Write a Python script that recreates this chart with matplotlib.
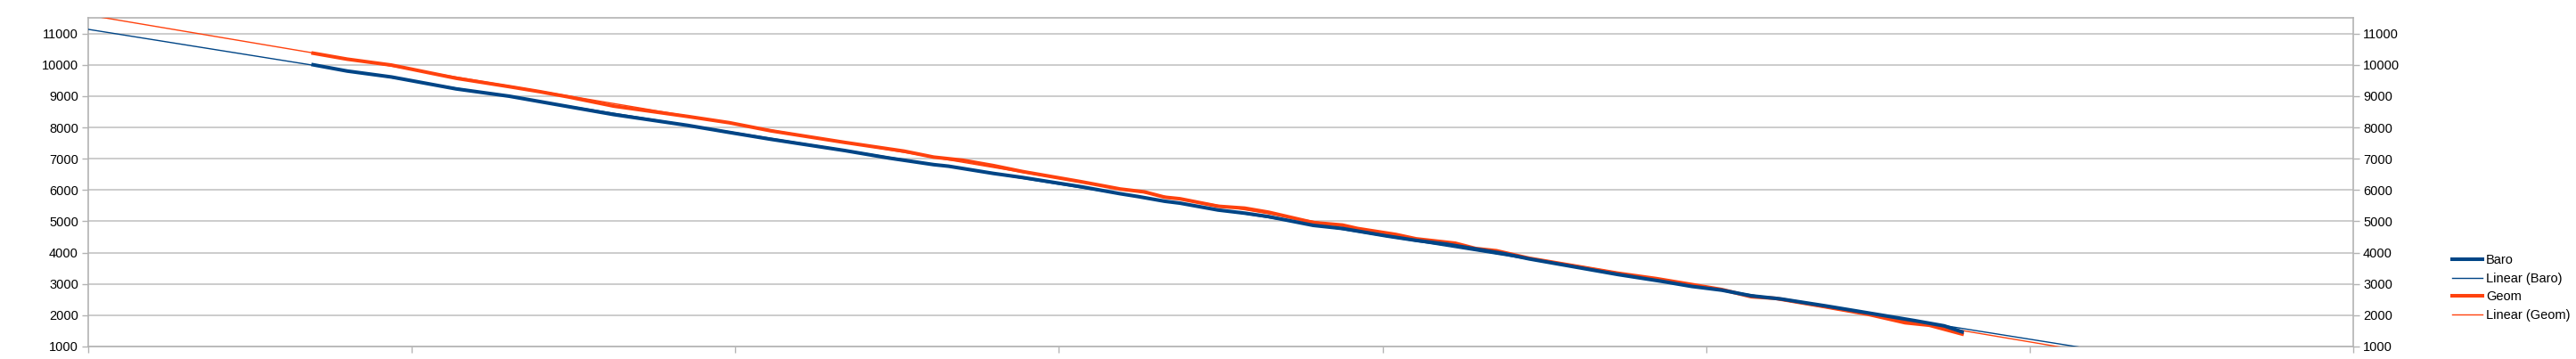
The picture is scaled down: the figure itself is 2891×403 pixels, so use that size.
import numpy as np
import matplotlib
matplotlib.use('Agg')
import matplotlib.pyplot as plt

plt.rcParams['font.family'] = ['Liberation Sans', 'DejaVu Sans']

# x positions (axis units, no labels shown on the chart)
baro_x = [6.95, 8.0, 9.37, 11.37, 13.02, 14.86, 16.24, 18.52, 19.81, 21.10,
          23.38, 24.75, 26.13, 26.59, 27.97, 28.87, 30.71, 31.9, 32.45, 33.27,
          33.74, 34.92, 35.74, 36.48, 37.86, 38.76, 40.14, 41.04, 41.98, 43.79,
          44.53, 47.28, 48.65, 49.56, 50.49, 51.40, 52.31, 53.68, 54.62, 56.43,
          57.36, 57.91]
baro = [10000, 9800, 9610, 9230, 8995, 8660, 8410, 8065, 7840, 7620,
        7260, 7020, 6810, 6760, 6530, 6400, 6100, 5880, 5790, 5640,
        5580, 5360, 5260, 5150, 4870, 4770, 4530, 4390, 4270, 3960,
        3800, 3300, 3080, 2920, 2800, 2620, 2520, 2300, 2140, 1830,
        1660, 1470]

geom_x = [6.95, 8.0, 9.37, 11.37, 13.02, 13.96, 14.86, 16.24, 18.52, 19.81,
          21.10, 23.38, 25.22, 26.13, 27.03, 27.97, 28.87, 30.71, 31.9, 32.64,
          33.27, 33.74, 34.92, 35.74, 36.48, 37.86, 38.76, 39.23, 40.41, 41.04,
          42.25, 42.88, 43.52, 44.53, 47.28, 48.46, 50.49, 51.40, 52.14, 53.68,
          55.05, 56.15, 56.90, 57.91]
geom = [10370, 10180, 9990, 9570, 9300, 9140, 8970, 8680, 8350, 8150,
        7890, 7520, 7240, 7050, 6950, 6780, 6590, 6260, 6030, 5940,
        5770, 5720, 5480, 5420, 5290, 4960, 4880, 4770, 4580, 4440,
        4300, 4130, 4060, 3820, 3340, 3170, 2820, 2590, 2540, 2270,
        2020, 1760, 1680, 1400]

yticks = [1000, 2000, 3000, 4000, 5000, 6000, 7000, 8000, 9000, 10000, 11000]

blue = '#004586'
orange = '#ff420e'
grey = '#b3b3b3'

fig = plt.figure(figsize=(28.91, 4.03), dpi=100)
ax = fig.add_axes([99 / 2891, 14 / 403, (2641 - 99) / 2891, (389 - 20) / 403])

# linear trend lines, extended over the whole axis
xx = np.array([0, 70])
pb = np.polyfit(baro_x, baro, 1)
pg = np.polyfit(geom_x, geom, 1)

ax.plot(baro_x, baro, '-', color=blue, lw=2.9, label='Baro', zorder=4)
ax.plot(xx, np.polyval(pb, xx), '-', color=blue, lw=1.0, label='Linear (Baro)', zorder=3)
ax.plot(geom_x, geom, '-', color=orange, lw=2.9, label='Geom', zorder=3)
ax.plot(xx, np.polyval(pg, xx), '-', color=orange, lw=1.0, label='Linear (Geom)', zorder=3)

ax.set_xlim(0, 70)
ax.set_ylim(1000, 11500)
ax.set_yticks(yticks)
ax.set_xticks(range(0, 71, 10))
ax.set_xticklabels([])
ax.grid(axis='y', color='#c8c8c8', lw=1.3)
ax.set_axisbelow(True)

for s in ax.spines.values():
    s.set_color(grey)
    s.set_linewidth(1.2)

ax.tick_params(axis='y', which='both', left=True, right=True, labelleft=True, labelright=True,
               direction='out', length=5, width=1, color=grey, pad=3, labelsize=10.5)
ax.tick_params(axis='x', direction='out', length=5, width=1, color=grey)

fig.legend(loc='center left', bbox_to_anchor=(2752 / 2891, 0.1985), frameon=False,
           fontsize=10.5, handlelength=2.3, handletextpad=0.3, labelspacing=0.45,
           borderpad=0, borderaxespad=0)

fig.savefig('out.png', dpi=100)
